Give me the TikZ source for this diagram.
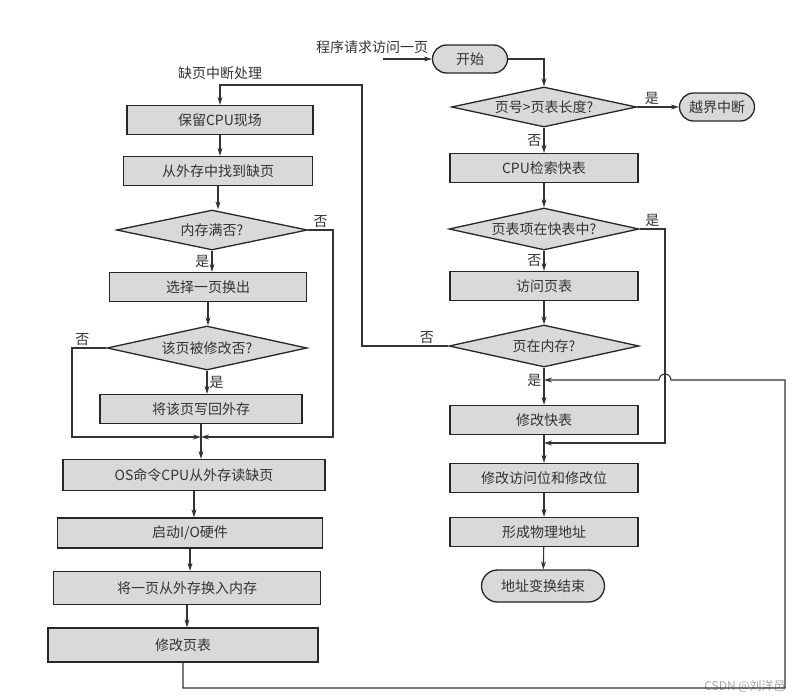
\documentclass[tikz,border=0pt]{standalone}
\usepackage{fontspec}
\setmainfont{Noto Sans CJK SC}
\usetikzlibrary{arrows.meta,shapes.geometric,shapes.misc}

\begin{document}
\begin{tikzpicture}[x=1pt,y=1pt,>={Stealth[length=8pt,width=5pt]},
  every node/.style={font=\fontsize{14}{16}\selectfont,text=black!80},
  line/.style={draw=black!80,line width=1.1pt},
  box/.style={draw=black!85,fill=gray!30,line width=1.3pt,minimum width=188pt,minimum height=29pt,inner sep=0pt},
  decision/.style={diamond,aspect=4.5,draw=black!85,fill=gray!30,line width=1.3pt,minimum width=190pt,minimum height=42pt,inner sep=0pt},
  terminal/.style={rounded rectangle,draw=black!85,fill=gray!30,line width=1.3pt,minimum width=75pt,minimum height=28pt,inner sep=0pt},
  lbl/.style={inner sep=2pt}]
  \useasboundingbox (0,0) rectangle (810,-696);
  \node (req) at (372,-47) {程序请求访问一页};
  \node[terminal] (start) at (470,-59) {开始};
  \node[decision,minimum width=185pt,minimum height=40pt] (chk) at (544,-107) {页号>页表长度?};
  \node[terminal] (over) at (717,-107) {越界中断};
  \node[box] (tlb) at (544,-168) {CPU检索快表};
  \node[decision] (intlb) at (544,-229) {页表项在快表中?};
  \node[box] (pt) at (544,-286) {访问页表};
  \node[decision] (inmem) at (544,-346) {页在内存?};
  \node[box] (updtlb) at (544,-420) {修改快表};
  \node[box] (setbits) at (544,-478) {修改访问位和修改位};
  \node[box] (phys) at (544,-532) {形成物理地址};
  \node[terminal,minimum width=123pt,minimum height=32pt] (done) at (543,-586) {地址变换结束};
  \node (fault) at (220,-73) {缺页中断处理};
  \node[box,minimum width=186pt] (save) at (220,-120) {保留CPU现场};
  \node[box,minimum width=189pt] (find) at (218,-171) {从外存中找到缺页};
  \node[decision,minimum width=191pt,minimum height=40pt] (full) at (212,-230) {内存满否?};
  \node[box,minimum width=197pt] (pick) at (208,-287) {选择一页换出};
  \node[decision,minimum width=200pt,minimum height=44pt] (dirty) at (207,-348) {该页被修改否?};
  \node[box,minimum width=202pt] (wback) at (201,-409) {将该页写回外存};
  \node[box,minimum width=262pt,minimum height=31pt] (osread) at (194,-475) {OS命令CPU从外存读缺页};
  \node[box,minimum width=265pt,minimum height=30pt] (io) at (190,-533) {启动I/O硬件};
  \node[box,minimum width=267pt,minimum height=33pt] (swapin) at (187,-588) {将一页从外存换入内存};
  \node[box,minimum width=270pt,minimum height=34pt] (updpt) at (183,-645) {修改页表};
  \node[font=\fontsize{12}{14}\selectfont,text=gray!70] (mark) at (745,-686) {CSDN @刘洋邑};
  \coordinate (reqend) at (383,-59);
  \coordinate (join) at (201,-437);
  \coordinate (back) at (544,-380);
  \coordinate (merge) at (544,-443);
  \draw[line,->] (reqend) -- (start.west);
  \draw[line,->] (start.east) -| (chk.north);
  \draw[line,->] (chk.east) -- node[lbl,above,pos=0.35]{是} (over.west);
  \draw[line,->] (chk.south) -- node[lbl,left]{否} (tlb.north);
  \draw[line,->] (tlb) -- (intlb);
  \draw[line,->] (intlb.south) -- node[lbl,left]{否} (pt.north);
  \draw[line,->] (pt) -- (inmem);
  \draw[line,->] (inmem.south) -- node[lbl,left,pos=0.35]{是} (updtlb.north);
  \draw[line,->] (updtlb) -- (setbits);
  \draw[line,->] (setbits) -- (phys);
  \draw[line,->] (phys) -- (done);
  \draw[line,->] (intlb.east) -- node[lbl,above]{是} (665,-229) -- (665,-443) -- (merge);
  \draw[line,->] (inmem.west) -- node[lbl,above,pos=0.25]{否} (362,-346) -- (362,-85) -| (save.north);
  \draw[line,->] (updpt.south) -- (183,-688) -- (785,-688) -- (785,-380) -- (671,-380)
    arc[start angle=0,end angle=180,radius=6] -- (back);
  \draw[line,->] (save) -- (save |- find.north);
  \draw[line,->] (find.south) -- (find.south |- full.north);
  \draw[line,->] (full.south) -- node[lbl,left]{是} (full.south |- pick.north);
  \draw[line,->] (pick.south) -- (pick.south |- dirty.north);
  \draw[line,->] (dirty.south) -- node[lbl,right]{是} (dirty.south |- wback.north);
  \draw[line,->] (wback.south) -- (wback.south |- osread.north);
  \draw[line,->] (osread.south) -- (osread.south |- io.north);
  \draw[line,->] (io.south) -- (io.south |- swapin.north);
  \draw[line,->] (swapin.south) -- (swapin.south |- updpt.north);
  \draw[line,->] (full.east) -- node[lbl,above]{否} (333,-230) -- (333,-437) -- (join);
  \draw[line,->] (dirty.west) -- node[lbl,above,pos=0.7]{否} (72,-348) -- (72,-437) -- (join);
\end{tikzpicture}
\end{document}
